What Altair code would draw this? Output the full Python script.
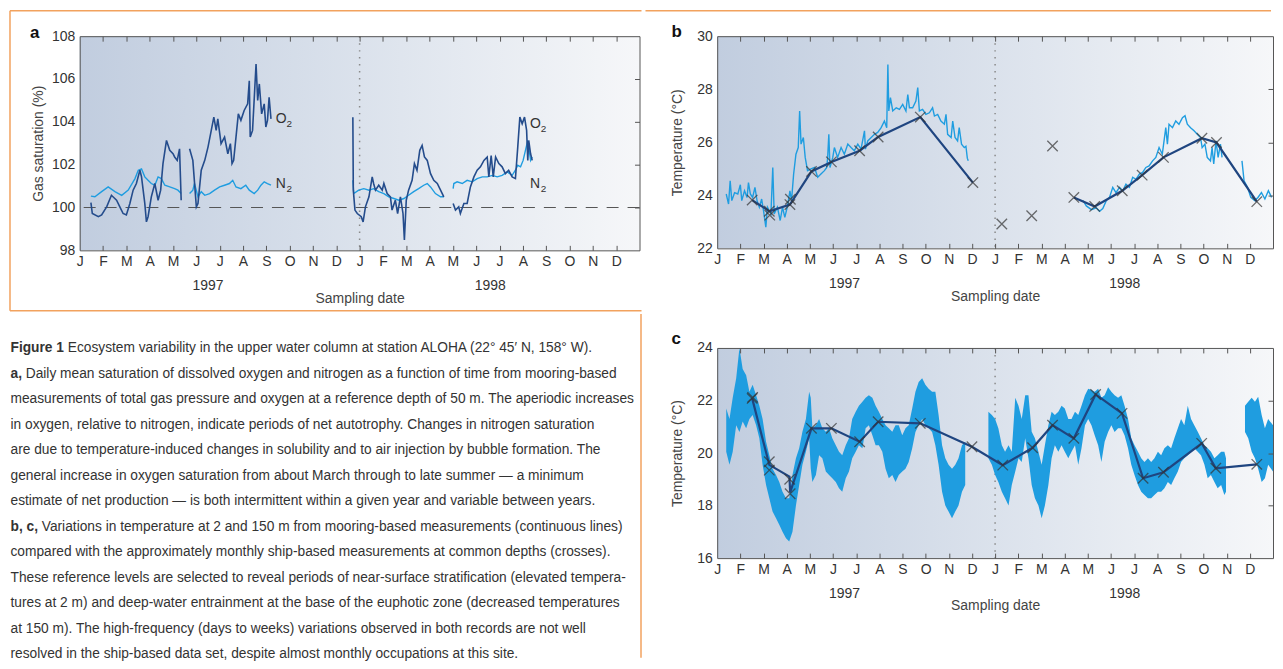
import altair as alt
import pandas as pd

FONT = "Liberation Sans"
CAP_FONT = "Liberation Sans"
TXT = "#333333"
FRAME = "#555555"
LIGHT = "#1f9de0"
DARK_A = "#244c8c"
DARK_S = "#1f4580"
ORANGE = "#f2a25e"
MONTHS_EXPR = "['J','F','M','A','M','J','J','A','S','O','N','D'][datum.value % 12]"

# ---------------- data (x = months since 1 Jan 1997) ----------------
# panel a: O2 saturation (%)
a_o2_s1_m = [0.48, 0.54, 0.80, 0.94, 1.16, 1.36, 1.58, 1.72, 1.86, 2.00, 2.15, 2.29, 2.43, 2.58, 2.65, 2.79, 2.86, 2.93, 3.07, 3.22, 3.36, 3.47, 3.57, 3.72, 3.86, 4.00, 4.07, 4.18, 4.28, 4.35]
a_o2_s1_v = [100.23, 99.72, 99.57, 99.65, 100.04, 100.57, 100.34, 100.03, 99.72, 99.65, 100.19, 100.81, 101.12, 101.74, 101.43, 100.19, 99.33, 99.57, 100.50, 101.12, 100.34, 100.81, 102.05, 103.13, 102.67, 102.51, 102.36, 102.20, 102.74, 100.34]
a_o2_s2_m = [4.71, 4.85, 5.00, 5.07, 5.21, 5.36, 5.50, 5.64, 5.75, 5.85, 5.92, 6.06, 6.21, 6.35, 6.46, 6.53, 6.60, 6.70, 6.80, 6.91, 7.05, 7.20, 7.27, 7.31, 7.41, 7.56, 7.63, 7.70, 7.80, 7.91, 7.98, 8.05, 8.12, 8.20]
a_o2_s2_v = [102.74, 102.20, 100.03, 100.19, 101.74, 102.20, 102.82, 103.60, 104.22, 103.60, 104.14, 102.98, 103.29, 102.51, 102.98, 102.05, 102.20, 103.29, 104.37, 104.07, 104.53, 104.84, 105.92, 103.29, 103.60, 106.70, 105.00, 105.77, 104.37, 104.84, 103.76, 104.07, 105.15, 104.14]
a_o2_s3_m = [11.71, 11.73, 11.80, 11.90, 12.07, 12.15, 12.25, 12.40, 12.54, 12.60, 12.68, 12.82, 12.97, 13.04, 13.18, 13.32, 13.39, 13.53, 13.63, 13.75, 13.86, 13.92, 14.00, 14.10, 14.25, 14.35, 14.46, 14.58, 14.68, 14.78, 14.90, 15.04, 15.18, 15.33, 15.47, 15.61]
a_o2_s3_v = [104.22, 100.81, 99.88, 99.72, 99.57, 99.33, 100.03, 100.50, 101.43, 101.12, 100.81, 101.04, 100.81, 101.12, 100.65, 100.50, 99.88, 100.34, 99.72, 100.50, 99.72, 98.48, 100.34, 100.81, 101.27, 102.05, 101.74, 102.67, 102.90, 102.36, 102.20, 101.58, 101.27, 101.12, 100.81, 100.50]
a_o2_s4_m = [16.01, 16.11, 16.25, 16.32, 16.47, 16.61, 16.75, 16.90, 17.04, 17.18, 17.33, 17.47, 17.54, 17.64, 17.73, 17.83, 17.97, 18.11, 18.25, 18.39, 18.54, 18.68, 18.78, 18.87, 18.97, 19.07, 19.16, 19.21, 19.25, 19.33, 19.40]
a_o2_s4_v = [100.19, 99.88, 100.03, 99.72, 100.19, 100.19, 100.96, 101.43, 101.74, 101.90, 102.20, 102.36, 101.43, 102.43, 101.43, 102.36, 102.05, 101.90, 101.58, 101.74, 101.43, 101.35, 102.82, 104.22, 103.91, 104.22, 103.60, 102.20, 103.13, 102.51, 102.20]
# panel a: N2 saturation (%)
a_n2_s1_m = [0.48, 0.65, 0.94, 1.22, 1.51, 1.80, 2.08, 2.37, 2.51, 2.65, 2.79, 2.93, 3.07, 3.22, 3.36, 3.50, 3.65, 3.86, 4.07, 4.21, 4.35]
a_n2_s1_v = [100.53, 100.50, 100.74, 100.96, 100.74, 100.57, 100.81, 101.35, 101.74, 101.80, 101.43, 101.27, 101.12, 101.04, 101.43, 101.35, 101.04, 100.96, 100.88, 100.81, 100.65]
a_n2_s2_m = [4.71, 4.85, 4.92, 5.07, 5.21, 5.36, 5.57, 5.78, 6.00, 6.21, 6.42, 6.56, 6.70, 6.91, 7.12, 7.27, 7.48, 7.63, 7.77, 7.91, 8.05, 8.20]
a_n2_s2_v = [100.65, 100.81, 101.12, 100.50, 100.74, 100.57, 100.65, 100.81, 100.96, 101.04, 101.12, 101.27, 100.96, 100.88, 101.04, 100.81, 100.65, 100.81, 101.04, 101.20, 101.12, 101.04]
a_n2_s3_m = [11.71, 11.75, 11.96, 12.18, 12.40, 12.60, 12.82, 13.04, 13.25, 13.47, 13.68, 13.90, 14.10, 14.32, 14.53, 14.75, 14.90, 15.04, 15.25, 15.47, 15.61]
a_n2_s3_v = [101.27, 100.65, 100.81, 100.88, 100.81, 100.88, 100.74, 100.65, 100.50, 100.42, 100.34, 100.42, 100.57, 100.74, 100.88, 101.04, 101.12, 100.96, 100.65, 100.50, 100.50]
a_n2_s4_m = [16.01, 16.04, 16.18, 16.40, 16.61, 16.83, 17.04, 17.26, 17.47, 17.69, 17.90, 18.11, 18.33, 18.54, 18.68, 18.78, 18.90, 19.01, 19.11, 19.21, 19.33, 19.40]
a_n2_s4_v = [100.88, 101.12, 101.20, 101.12, 101.27, 101.20, 101.35, 101.43, 101.43, 101.50, 101.43, 101.50, 101.66, 101.50, 101.74, 101.97, 101.90, 102.20, 102.67, 103.13, 102.20, 102.36]
a_lab_m = [8.40, 8.40, 19.30, 19.30]
a_lab_v = [104.14, 101.10, 103.90, 101.10]
a_lab_t = ["O", "N", "O", "N"]

# panel b: temperature at 2 m (mooring)
b_m_s1_m = [0.39, 0.49, 0.56, 0.63, 0.75, 0.89, 1.00, 1.06, 1.18, 1.29, 1.35, 1.43, 1.53, 1.63, 1.72, 1.82, 1.92, 2.00, 2.10, 2.17, 2.32, 2.40, 2.46, 2.60, 2.72, 2.82, 2.92, 3.04, 3.14, 3.21, 3.30, 3.40, 3.50, 3.56, 3.62, 3.72, 3.80, 3.90, 4.05, 4.20, 4.34, 4.48, 4.63, 4.73, 4.77, 4.82, 4.87, 4.99, 5.06, 5.20, 5.35, 5.49, 5.64, 5.78, 5.92, 6.07, 6.21, 6.36, 6.40, 6.50, 6.65, 6.79, 6.93, 7.08, 7.22, 7.32, 7.37, 7.41, 7.48, 7.58, 7.73, 7.87, 8.01, 8.15, 8.23, 8.30, 8.44, 8.58, 8.66, 8.73, 8.87, 9.01, 9.16, 9.30, 9.38, 9.52, 9.66, 9.81, 9.88, 9.95, 10.10, 10.17, 10.27, 10.38, 10.45, 10.55, 10.67, 10.74, 10.80, 10.84]
b_m_s1_v = [24.05, 23.67, 24.55, 23.80, 24.10, 24.05, 24.40, 23.80, 24.17, 23.92, 24.48, 24.05, 23.92, 24.30, 23.80, 23.55, 23.86, 23.42, 22.80, 23.55, 23.30, 25.05, 23.30, 23.55, 23.05, 23.55, 23.17, 23.61, 24.17, 23.80, 24.80, 25.55, 25.80, 27.18, 25.93, 26.18, 25.43, 24.93, 25.00, 25.05, 24.68, 24.80, 24.93, 25.05, 25.43, 26.30, 25.05, 25.43, 25.80, 25.43, 25.80, 25.55, 25.93, 25.80, 25.68, 25.93, 25.74, 26.43, 25.74, 26.05, 26.18, 26.30, 26.37, 26.55, 26.80, 26.55, 28.93, 27.18, 27.68, 27.18, 27.30, 27.24, 27.43, 27.18, 27.80, 27.30, 27.30, 27.55, 28.06, 27.18, 27.24, 27.05, 27.11, 27.30, 26.99, 27.05, 26.80, 26.68, 27.05, 26.30, 26.18, 26.80, 26.18, 26.05, 26.55, 25.93, 25.80, 25.85, 25.40, 25.30]
b_m_s2_m = [15.80, 15.94, 16.16, 16.37, 16.51, 16.65, 16.80, 16.94, 17.08, 17.22, 17.37, 17.51, 17.65, 17.80, 17.94, 18.08, 18.23, 18.37, 18.51, 18.65, 18.80, 18.94, 19.08, 19.22, 19.37, 19.44, 19.51, 19.66, 19.80, 19.94, 20.09, 20.20, 20.30, 20.44, 20.59, 20.73, 20.87, 20.94, 21.06, 21.16, 21.30, 21.37, 21.44, 21.54, 21.63, 21.73, 21.80]
b_m_s2_v = [23.80, 23.60, 23.46, 23.53, 23.40, 23.50, 23.80, 23.92, 24.30, 24.10, 24.30, 24.17, 24.42, 24.30, 24.68, 24.60, 24.80, 24.86, 25.05, 25.11, 25.30, 25.43, 25.80, 25.55, 26.55, 25.93, 26.68, 26.55, 26.80, 26.68, 26.93, 27.00, 26.68, 26.55, 26.43, 26.30, 26.18, 25.80, 25.93, 25.43, 25.30, 25.80, 25.18, 26.05, 25.43, 25.93, 25.43]
b_m_s3_m = [22.66, 22.75, 22.90, 23.04, 23.21, 23.35, 23.50, 23.65, 23.80, 23.94]
b_m_s3_v = [25.30, 24.55, 24.30, 23.92, 23.80, 23.92, 24.10, 23.86, 24.17, 23.92]
# panel b: ship-based (crosses) and the line joining them
b_x_m = [1.51, 2.25, 2.27, 3.14, 3.16, 4.07, 4.93, 6.15, 6.95, 8.77, 11.04, 12.29, 13.58, 14.48, 15.40, 16.30, 17.49, 18.35, 19.27, 20.93, 21.56, 23.30]
b_x_v = [23.82, 23.40, 23.25, 23.65, 23.85, 24.90, 25.26, 25.68, 26.20, 26.95, 24.48, 22.92, 23.23, 25.86, 23.92, 23.58, 24.17, 24.76, 25.43, 26.15, 25.99, 23.76]
b_l_s1_m = [1.51, 2.25, 3.14, 4.07, 4.93, 6.15, 6.95, 8.77, 11.04]
b_l_s1_v = [23.82, 23.40, 23.65, 24.90, 25.26, 25.68, 26.20, 26.95, 24.48]
b_l_s2_m = [15.40, 16.30, 17.49, 18.35, 19.27, 20.93, 21.56, 23.30]
b_l_s2_v = [23.92, 23.58, 24.17, 24.76, 25.43, 26.15, 25.99, 23.76]

# panel c: temperature at 150 m (mooring) - envelope of the record
c_s1_m = [0.39, 0.53, 0.67, 0.82, 0.96, 1.10, 1.25, 1.39, 1.53, 1.68, 1.82, 1.96, 2.11, 2.25, 2.39, 2.54, 2.68, 2.82, 2.97, 3.11, 3.25, 3.40, 3.54, 3.68, 3.83, 3.97, 4.04, 4.11, 4.26, 4.40, 4.54, 4.69, 4.83, 4.97, 5.12, 5.26, 5.40, 5.55, 5.69, 5.83, 5.98, 6.12, 6.27, 6.41, 6.55, 6.70, 6.84, 6.98, 7.13, 7.27, 7.41, 7.56, 7.70, 7.84, 7.99, 8.13, 8.27, 8.42, 8.56, 8.70, 8.85, 8.99, 9.13, 9.28, 9.42, 9.56, 9.71, 9.85, 9.99, 10.14, 10.28, 10.42, 10.57, 10.71]
c_s1_lo = [20.05, 19.55, 20.05, 21.06, 20.80, 21.20, 20.94, 21.30, 21.45, 21.06, 20.56, 19.55, 18.78, 18.28, 17.77, 17.52, 17.27, 17.00, 16.76, 16.63, 17.00, 18.00, 18.78, 19.55, 20.05, 20.56, 19.40, 18.90, 19.16, 19.92, 19.80, 19.30, 19.16, 19.04, 18.90, 18.66, 18.53, 19.04, 19.30, 19.80, 20.05, 20.30, 20.18, 20.94, 21.06, 20.68, 20.30, 20.30, 20.05, 19.40, 19.04, 19.16, 18.90, 19.16, 19.30, 19.40, 19.66, 20.18, 20.80, 21.06, 21.30, 21.06, 20.94, 20.80, 20.30, 19.55, 18.53, 18.00, 17.77, 17.52, 17.77, 18.00, 18.53, 18.78]
c_s1_hi = [21.70, 21.30, 22.10, 22.85, 24.00, 23.20, 22.96, 22.33, 22.60, 22.20, 21.80, 21.30, 20.43, 19.92, 19.40, 19.16, 18.90, 18.53, 18.28, 18.28, 19.16, 19.80, 20.18, 20.81, 21.30, 22.33, 22.10, 20.94, 21.06, 21.30, 20.94, 20.81, 20.94, 20.56, 20.30, 20.05, 19.92, 20.30, 20.56, 21.30, 21.57, 21.80, 21.95, 22.10, 22.20, 22.10, 21.80, 21.57, 21.30, 21.06, 20.94, 20.81, 21.06, 21.06, 20.68, 20.94, 21.06, 21.70, 22.33, 22.70, 22.85, 22.60, 22.45, 22.33, 22.33, 21.45, 20.30, 19.80, 19.55, 19.40, 19.55, 19.80, 20.30, 20.43]
c_s2_m = [11.71, 11.86, 12.00, 12.14, 12.29, 12.43, 12.58, 12.72, 12.87, 13.01, 13.15, 13.30, 13.44, 13.58, 13.72, 13.87, 14.01, 14.15, 14.30, 14.44, 14.58, 14.73, 14.87, 15.01, 15.16, 15.30, 15.45, 15.59, 15.73, 15.88, 16.02, 16.16, 16.30, 16.45, 16.59, 16.73, 16.88, 17.02, 17.16, 17.31, 17.45, 17.59, 17.74, 17.88, 18.02, 18.17, 18.31, 18.45, 18.60, 18.74, 18.88, 19.03, 19.17, 19.31, 19.46, 19.60, 19.74, 19.89, 20.03, 20.17, 20.32, 20.46, 20.60, 20.75, 20.89, 21.04, 21.18, 21.32, 21.47, 21.61, 21.76, 21.90, 21.97]
c_s2_lo = [19.80, 19.55, 19.16, 18.90, 18.53, 18.28, 18.00, 18.78, 19.30, 19.80, 19.66, 20.56, 19.80, 18.78, 18.28, 18.00, 17.52, 18.00, 18.78, 19.80, 20.30, 20.05, 20.30, 20.05, 19.80, 20.05, 20.30, 19.55, 20.18, 21.06, 21.30, 21.06, 20.68, 20.30, 19.66, 20.43, 20.80, 21.06, 20.80, 20.94, 20.94, 20.68, 20.18, 19.55, 19.16, 18.78, 18.53, 18.40, 18.28, 18.28, 18.40, 18.53, 18.53, 18.66, 18.90, 18.78, 19.04, 19.30, 19.66, 19.80, 19.92, 20.05, 20.18, 20.05, 19.92, 19.55, 19.04, 19.16, 18.90, 18.66, 18.78, 18.40, 18.53]
c_s2_hi = [21.57, 21.45, 21.30, 20.94, 20.30, 20.05, 20.30, 20.05, 22.10, 21.80, 21.30, 22.20, 22.20, 20.81, 20.56, 20.05, 19.55, 20.30, 21.06, 21.57, 21.45, 21.57, 21.80, 21.70, 21.30, 21.30, 21.57, 21.45, 21.80, 22.20, 22.45, 22.40, 22.33, 22.45, 22.10, 22.20, 22.50, 22.33, 22.20, 22.10, 22.20, 21.80, 21.30, 20.56, 20.30, 20.05, 19.80, 19.66, 19.80, 19.66, 19.80, 20.05, 19.92, 20.18, 20.30, 20.18, 20.56, 20.94, 21.30, 21.06, 21.80, 21.30, 21.06, 20.81, 20.56, 20.30, 20.18, 20.05, 19.80, 19.92, 20.05, 20.05, 19.80]
c_s3_m = [22.79, 22.93, 23.08, 23.22, 23.36, 23.51, 23.65, 23.79, 24.00]
c_s3_lo = [20.80, 20.56, 20.05, 19.80, 19.40, 18.90, 19.04, 19.55, 19.30]
c_s3_hi = [21.80, 21.95, 22.10, 21.95, 22.14, 21.45, 20.94, 21.30, 21.06]
# panel c: ship-based crosses and line
c_x_m = [1.51, 1.53, 2.25, 2.25, 3.13, 3.15, 4.07, 4.93, 6.15, 6.95, 8.77, 11.00, 12.33, 13.62, 14.48, 15.40, 16.34, 17.48, 18.39, 19.27, 20.92, 21.53, 23.30]
c_x_v = [22.08, 22.12, 19.67, 19.35, 19.00, 18.45, 20.94, 20.94, 20.43, 21.19, 21.13, 20.24, 19.54, 20.20, 21.06, 20.56, 22.23, 21.51, 19.04, 19.27, 20.37, 19.42, 19.57]
c_l_m = [1.51, 2.25, 3.12, 3.15, 4.07, 4.93, 6.15, 6.95, 8.77, 11.00, 12.33, 13.62, 14.48, 15.40, 16.34, 17.48, 18.39, 19.27, 20.92, 21.53, 23.30]
c_l_v = [22.08, 19.55, 19.10, 18.50, 20.94, 20.94, 20.43, 21.19, 21.13, 20.24, 19.54, 20.20, 21.06, 20.56, 22.23, 21.51, 19.04, 19.27, 20.37, 19.42, 19.57]

year_m = [5.5, 17.6]
year_t = ["1997", "1998"]
month_ticks = list(range(24))
inner_ticks = list(range(1, 24))

cap_bold = ["Figure 1", "a,", "b, c,"]
cap_lines = [
    "Ecosystem variability in the upper water column at station ALOHA (22° 45′ N, 158° W).",
    "Daily mean saturation of dissolved oxygen and nitrogen as a function of time from mooring-based",
    "measurements of total gas pressure and oxygen at a reference depth of 50 m. The aperiodic increases",
    "in oxygen, relative to nitrogen, indicate periods of net autotrophy. Changes in nitrogen saturation",
    "are due to temperature-induced changes in solubility and to air injection by bubble formation. The",
    "general increase in oxygen saturation from about March through to late summer — a minimum",
    "estimate of net production — is both intermittent within a given year and variable between years.",
    "Variations in temperature at 2 and 150 m from mooring-based measurements (continuous lines)",
    "compared with the approximately monthly ship-based measurements at common depths (crosses).",
    "These reference levels are selected to reveal periods of near-surface stratification (elevated tempera-",
    "tures at 2 m) and deep-water entrainment at the base of the euphotic zone (decreased temperatures",
    "at 150 m). The high-frequency (days to weeks) variations observed in both records are not well",
    "resolved in the ship-based data set, despite almost monthly occupations at this site.",
]


# ---------------- helpers ----------------
def seg_df(segs, cols=("v",)):
    rows = []
    for k, seg in enumerate(segs):
        ms = seg[0]
        for i, m in enumerate(ms):
            r = {"m": m, "seg": k}
            for c, arr in zip(cols, seg[1:]):
                r[c] = arr[i]
            rows.append(r)
    return pd.DataFrame(rows)


XSC = alt.Scale(domain=[0, 24], nice=False, zero=False)
GRAD = alt.LinearGradient(
    gradient="linear",
    stops=[alt.GradientStop(color="#c1cddf", offset=0),
           alt.GradientStop(color="#dbe2ec", offset=0.5),
           alt.GradientStop(color="#f6f7f9", offset=1)],
    x1=0, x2=1, y1=0.5, y2=0.5)
CROSS = "M-1,-1L1,1M-1,1L1,-1"


def ax_bottom_main():
    return alt.Axis(orient="bottom", values=month_ticks, labelExpr=MONTHS_EXPR, ticks=False, tickSize=0,
                    domain=True, domainColor=FRAME, grid=False, labelPadding=4, labelFlush=False,
                    labelOverlap=False, title="Sampling date", titlePadding=23, zindex=1)


def ax_ticks_up(H):
    return alt.Axis(orient="top", offset=-H, values=inner_ticks, labels=False, ticks=True, tickSize=5,
                    tickColor=FRAME, domain=False, grid=False, title=None, zindex=1)


def ax_ticks_down(H):
    return alt.Axis(orient="bottom", offset=-H, values=inner_ticks, labels=False, ticks=True, tickSize=5,
                    tickColor=FRAME, domain=True, domainColor=FRAME, grid=False, title=None, zindex=1)


def ax_left_main(vals, title, tp):
    return alt.Axis(orient="left", values=vals, ticks=False, tickSize=0, domain=True, domainColor=FRAME,
                    labelPadding=5, grid=False, title=title, titlePadding=tp, zindex=1)


def ax_right_ticks(vals, W):
    return alt.Axis(orient="left", offset=-W, values=vals, labels=False, ticks=True, tickSize=5,
                    tickColor=FRAME, domain=True, domainColor=FRAME, grid=False, title=None, zindex=1)


def bg_layer(ysc, ydom, yvals, ytitle, tp):
    d = pd.DataFrame({"x0": [0], "x1": [24], "y0": [ydom[0]], "y1": [ydom[1]]})
    return alt.Chart(d).mark_rect(fill=GRAD).encode(
        x=alt.X("x0:Q", scale=XSC, axis=ax_bottom_main()), x2="x1:Q",
        y=alt.Y("y0:Q", scale=ysc, axis=ax_left_main(yvals, ytitle, tp)), y2="y1:Q")


def vrule_layer(H):
    return alt.Chart(pd.DataFrame({"m": [12]})).mark_rule(
        color="#8a8a8a", strokeDash=[1.5, 5.5], strokeWidth=1.5).encode(
        x=alt.X("m:Q", scale=XSC, axis=ax_ticks_up(H)))


def year_layer(H):
    return alt.Chart(pd.DataFrame({"m": year_m, "t": year_t})).mark_text(
        fontSize=14, color=TXT, baseline="middle", font=FONT).encode(
        x=alt.X("m:Q", scale=XSC, axis=None), y=alt.value(H + 36), text="t:N")


def letter_layer(t, x, y):
    return alt.Chart(pd.DataFrame({"t": [t]})).mark_text(
        fontSize=17, fontWeight="bold", color="#111", align="left", baseline="alphabetic",
        font=FONT).encode(x=alt.value(x), y=alt.value(y), text="t:N")


def orange(x, x2, y, y2):
    return alt.Chart(pd.DataFrame({"k": [0]})).mark_rule(color=ORANGE, strokeWidth=1.5).encode(
        x=alt.value(x), x2=alt.value(x2), y=alt.value(y), y2=alt.value(y2))


TOP = -25.5  # orange top rule, relative to the panels' top edge

# ---------------- panel a ----------------
AW, AH = 562, 215
ysa = alt.Scale(domain=[98, 108], nice=False, zero=False)
o2 = seg_df([(a_o2_s1_m, a_o2_s1_v), (a_o2_s2_m, a_o2_s2_v), (a_o2_s3_m, a_o2_s3_v), (a_o2_s4_m, a_o2_s4_v)])
n2 = seg_df([(a_n2_s1_m, a_n2_s1_v), (a_n2_s2_m, a_n2_s2_v), (a_n2_s3_m, a_n2_s3_v), (a_n2_s4_m, a_n2_s4_v)])
labs = pd.DataFrame({"m": a_lab_m, "v": a_lab_v, "t": a_lab_t, "s": ["2"] * 4})

panel_a = alt.layer(
    bg_layer(ysa, [98, 108], [98, 100, 102, 104, 106, 108], "Gas saturation (%)", 6),
    alt.Chart(pd.DataFrame({"v": [100]})).mark_rule(color="#555", strokeDash=[12, 9], strokeWidth=1).encode(
        y=alt.Y("v:Q", scale=ysa, axis=ax_right_ticks([100, 102, 104, 106], AW))),
    vrule_layer(AH),
    alt.Chart(n2).mark_line(color=LIGHT, strokeWidth=1.4).encode(
        x=alt.X("m:Q", scale=XSC, axis=ax_ticks_down(AH)), y=alt.Y("v:Q", scale=ysa, axis=None), detail="seg:N"),
    alt.Chart(o2).mark_line(color=DARK_A, strokeWidth=1.6).encode(
        x=alt.X("m:Q", scale=XSC, axis=None), y=alt.Y("v:Q", scale=ysa, axis=None), detail="seg:N"),
    alt.Chart(labs).mark_text(fontSize=14, color=TXT, align="left", baseline="middle", font=FONT).encode(
        x=alt.X("m:Q", scale=XSC, axis=None), y=alt.Y("v:Q", scale=ysa, axis=None), text="t:N"),
    alt.Chart(labs).mark_text(fontSize=10, color=TXT, align="left", baseline="middle", dx=11, dy=5, font=FONT).encode(
        x=alt.X("m:Q", scale=XSC, axis=None), y=alt.Y("v:Q", scale=ysa, axis=None), text="s:N"),
    year_layer(AH),
    letter_layer("a", -50, 2),
    orange(-70, 564, TOP, TOP),
    orange(-70, -70, TOP, 275.75),
    orange(-70, 564, 275.75, 275.75),
).resolve_axis(x="independent", y="independent").properties(width=AW, height=AH)

# ---------------- caption ----------------
CW, CH = 562, 330
rsc = alt.Scale(domain=[0, 12], range=[34.25, 34.25 + 12 * 25.6])
cap_df = pd.DataFrame({"row": list(range(13)), "t": cap_lines})
bold_df = pd.DataFrame({"row": [0, 1, 7], "t": cap_bold})
CX = -69.5
CFS = 13.8
cap_layers = [
    alt.Chart(bold_df).mark_text(fontSize=CFS, fontWeight="bold", color=TXT, align="left", baseline="middle",
                                 font=CAP_FONT).encode(
        x=alt.value(CX), y=alt.Y("row:Q", scale=rsc, axis=None), text="t:N"),
]
for rows, off in [([0], 57.5), ([1], 15.3), ([7], 31.4), ([2, 3, 4, 5, 6, 8, 9, 10, 11, 12], 0)]:
    cap_layers.append(
        alt.Chart(cap_df[cap_df["row"].isin(rows)]).mark_text(
            fontSize=CFS, color=TXT, align="left", baseline="middle", font=CAP_FONT).encode(
            x=alt.value(CX + off), y=alt.Y("row:Q", scale=rsc, axis=None), text="t:N"))
cap_layers.append(orange(563.5, 563.5, 0, 345))
caption = alt.layer(*cap_layers).properties(width=CW, height=CH)

# ---------------- panel b ----------------
BW, BH = 558, 213
ysb = alt.Scale(domain=[22, 30], nice=False, zero=False)
b_moor = seg_df([(b_m_s1_m, b_m_s1_v), (b_m_s2_m, b_m_s2_v), (b_m_s3_m, b_m_s3_v)])
b_line = seg_df([(b_l_s1_m, b_l_s1_v), (b_l_s2_m, b_l_s2_v)])
b_cross = pd.DataFrame({"m": b_x_m, "v": b_x_v})

panel_b = alt.layer(
    bg_layer(ysb, [22, 30], [22, 24, 26, 28, 30], "Temperature (°C)", 12),
    vrule_layer(BH),
    alt.Chart(b_moor).mark_line(color=LIGHT, strokeWidth=1.4).encode(
        x=alt.X("m:Q", scale=XSC, axis=ax_ticks_down(BH)),
        y=alt.Y("v:Q", scale=ysb, axis=ax_right_ticks([24, 26, 28], BW)), detail="seg:N"),
    alt.Chart(b_line).mark_line(color=DARK_S, strokeWidth=2.2).encode(
        x=alt.X("m:Q", scale=XSC, axis=None), y=alt.Y("v:Q", scale=ysb, axis=None), detail="seg:N"),
    alt.Chart(b_cross).mark_point(shape=CROSS, size=110, stroke="#333", strokeWidth=1.3, filled=False).encode(
        x=alt.X("m:Q", scale=XSC, axis=None), y=alt.Y("v:Q", scale=ysb, axis=None)),
    year_layer(BH),
    letter_layer("b", -46, 1),
    orange(-72, 556, TOP, TOP),
).resolve_axis(x="independent", y="independent").properties(width=BW, height=BH)

# ---------------- panel c ----------------
CPW, CPH = 558, 211
ysc = alt.Scale(domain=[16, 24], nice=False, zero=False)
c_band = seg_df([(c_s1_m, c_s1_lo, c_s1_hi), (c_s2_m, c_s2_lo, c_s2_hi), (c_s3_m, c_s3_lo, c_s3_hi)],
                cols=("lo", "hi"))
c_line = pd.DataFrame({"m": c_l_m, "v": c_l_v})
c_cross = pd.DataFrame({"m": c_x_m, "v": c_x_v})

panel_c = alt.layer(
    bg_layer(ysc, [16, 24], [16, 18, 20, 22, 24], "Temperature (°C)", 12),
    vrule_layer(CPH),
    alt.Chart(c_band).mark_area(color=LIGHT, opacity=1).encode(
        x=alt.X("m:Q", scale=XSC, axis=ax_ticks_down(CPH)),
        y=alt.Y("lo:Q", scale=ysc, axis=ax_right_ticks([18, 20, 22], CPW)), y2="hi:Q", detail="seg:N"),
    alt.Chart(c_line).mark_line(color=DARK_S, strokeWidth=2.2).encode(
        x=alt.X("m:Q", scale=XSC, axis=None), y=alt.Y("v:Q", scale=ysc, axis=None)),
    alt.Chart(c_cross).mark_point(shape=CROSS, size=110, stroke="#333", strokeWidth=1.3, filled=False).encode(
        x=alt.X("m:Q", scale=XSC, axis=None), y=alt.Y("v:Q", scale=ysc, axis=None)),
    year_layer(CPH),
    letter_layer("c", -46, -4),
).resolve_axis(x="independent", y="independent").properties(width=CPW, height=CPH)

left = alt.vconcat(panel_a, caption, spacing=0)
right = alt.vconcat(panel_b, panel_c, spacing=25)
chart = alt.hconcat(left, right, spacing=0).properties(padding=0).configure_view(
    stroke="transparent").configure_axis(
    labelFont=FONT, titleFont=FONT, labelFontSize=14, titleFontSize=14, labelColor=TXT,
    titleColor="#444444", titleFontWeight="normal", grid=False)

chart.save("out.html", embed_options={"renderer": "svg", "actions": False})
